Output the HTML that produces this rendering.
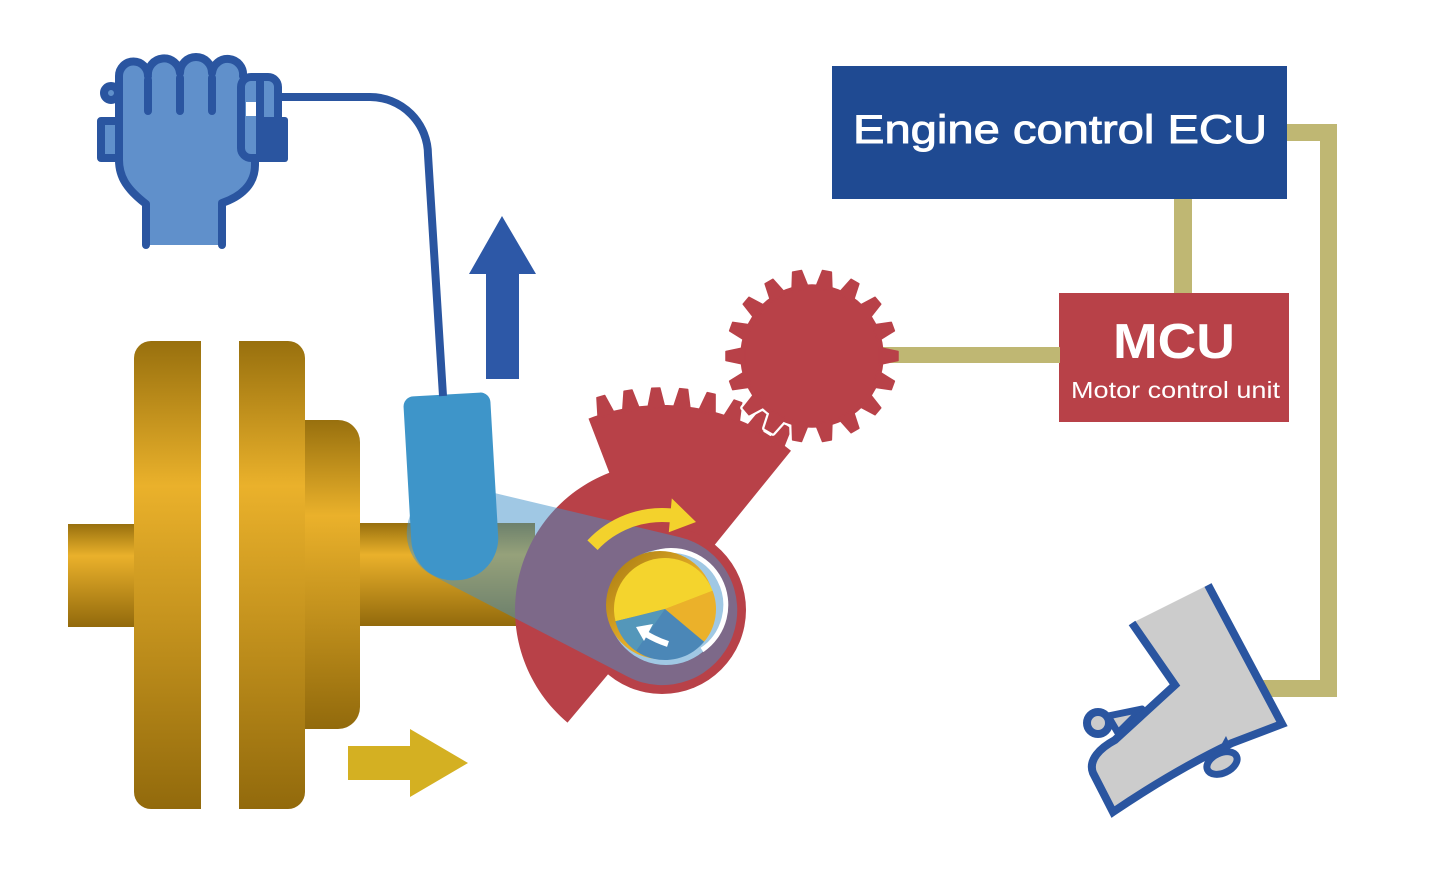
<!DOCTYPE html>
<html>
<head>
<meta charset="utf-8">
<style>
html,body{margin:0;padding:0;background:#fff;}
svg{display:block;}
</style>
</head>
<body>
<svg width="1440" height="895" viewBox="0 0 1440 895" xmlns="http://www.w3.org/2000/svg">
<defs>
<linearGradient id="gd" x1="0" y1="0" x2="0" y2="1">
<stop offset="0" stop-color="#98700e"/>
<stop offset="0.31" stop-color="#eab12b"/>
<stop offset="1" stop-color="#926a0c"/>
</linearGradient>
<linearGradient id="rim" x1="0" y1="0" x2="1" y2="1">
<stop offset="0" stop-color="#a47810"/>
<stop offset="0.55" stop-color="#e6ae28"/>
<stop offset="1" stop-color="#e6ae28"/>
</linearGradient>
</defs>

<!-- connectors -->
<rect x="1287" y="124" width="50" height="17" fill="#bfb773"/>
<rect x="1320" y="124" width="17" height="573" fill="#bfb773"/>
<rect x="1250" y="680" width="87" height="17" fill="#bfb773"/>
<rect x="1174" y="199" width="18" height="95" fill="#bfb773"/>

<!-- ECU -->
<rect x="832" y="66" width="455" height="133" fill="#1f4a92"/>
<text x="853" y="143" font-family="Liberation Sans, sans-serif" font-size="40" fill="#fff" stroke="#fff" stroke-width="0.9" textLength="414" lengthAdjust="spacingAndGlyphs">Engine control ECU</text>

<!-- MCU -->
<rect x="1059" y="293" width="230" height="129" fill="#b84148"/>
<text x="1113" y="358" font-family="Liberation Sans, sans-serif" font-size="49" font-weight="bold" fill="#fff" textLength="122" lengthAdjust="spacingAndGlyphs">MCU</text>
<text x="1071" y="398" font-family="Liberation Sans, sans-serif" font-size="23" fill="#fff" textLength="209" lengthAdjust="spacingAndGlyphs">Motor control unit</text>

<!-- shaft & flanges -->
<rect x="68" y="524" width="70" height="103" fill="url(#gd)"/>
<rect x="355" y="523" width="180" height="103" fill="url(#gd)"/>
<path d="M151,341 H201 V809 H151 A17,17 0 0 1 134,792 V358 A17,17 0 0 1 151,341 Z" fill="url(#gd)"/>
<path d="M239,341 H288 A17,17 0 0 1 305,358 V792 A17,17 0 0 1 288,809 H239 Z" fill="url(#gd)"/>
<path d="M305,420 H338 A22,22 0 0 1 360,442 V707 A22,22 0 0 1 338,729 H305 Z" fill="url(#gd)"/>

<!-- small yellow arrow -->
<polygon points="348,746 410,746 410,729 468,763 410,797 410,780 348,780" fill="#d4b022"/>

<!-- blue up arrow -->
<polygon points="502,216 536,274 519,274 519,379 486,379 486,274 469,274" fill="#2d58a7"/>

<!-- red sector gear -->
<g fill="#b84148">
<path d="M662,610 L567.5,722.6 A147,147 0 0 1 609.3,472.8 L588.5,418.6 A205,205 0 0 1 791,450.7 L715.5,543.9 Z"/>
<circle cx="662" cy="610" r="84"/>
<g transform="translate(662 610)" stroke="#b84148" stroke-width="1.5" stroke-linejoin="round">
<path d="M202,-8.5 L222,-4 L222,4 L202,8.5Z" transform="rotate(-106)"/>
<path d="M202,-8.5 L222,-4 L222,4 L202,8.5Z" transform="rotate(-98.8)"/>
<path d="M202,-8.5 L222,-4 L222,4 L202,8.5Z" transform="rotate(-91.6)"/>
<path d="M202,-8.5 L222,-4 L222,4 L202,8.5Z" transform="rotate(-84.4)"/>
<path d="M202,-8.5 L222,-4 L222,4 L202,8.5Z" transform="rotate(-77.2)"/>
<path d="M202,-8.5 L222,-4 L222,4 L202,8.5Z" transform="rotate(-70)"/>
<path d="M202,-8.5 L222,-4 L222,4 L202,8.5Z" transform="rotate(-62.8)"/>
<path d="M202,-8.5 L222,-4 L222,4 L202,8.5Z" transform="rotate(-55.6)"/>
</g>
</g>

<!-- small gear: white outline pass -->
<g transform="translate(812 356)" fill="#fff" stroke="#fff" stroke-width="6" stroke-linejoin="round">
<circle r="71"/>
<path d="M67,-8.5 L86,-4.5 L86,4.5 L67,8.5Z" transform="rotate(0)"/>
<path d="M67,-8.5 L86,-4.5 L86,4.5 L67,8.5Z" transform="rotate(20)"/>
<path d="M67,-8.5 L86,-4.5 L86,4.5 L67,8.5Z" transform="rotate(40)"/>
<path d="M67,-8.5 L86,-4.5 L86,4.5 L67,8.5Z" transform="rotate(60)"/>
<path d="M67,-8.5 L86,-4.5 L86,4.5 L67,8.5Z" transform="rotate(80)"/>
<path d="M67,-8.5 L86,-4.5 L86,4.5 L67,8.5Z" transform="rotate(100)"/>
<path d="M67,-8.5 L86,-4.5 L86,4.5 L67,8.5Z" transform="rotate(120)"/>
<path d="M67,-8.5 L86,-4.5 L86,4.5 L67,8.5Z" transform="rotate(140)"/>
<path d="M67,-8.5 L86,-4.5 L86,4.5 L67,8.5Z" transform="rotate(160)"/>
<path d="M67,-8.5 L86,-4.5 L86,4.5 L67,8.5Z" transform="rotate(180)"/>
<path d="M67,-8.5 L86,-4.5 L86,4.5 L67,8.5Z" transform="rotate(200)"/>
<path d="M67,-8.5 L86,-4.5 L86,4.5 L67,8.5Z" transform="rotate(220)"/>
<path d="M67,-8.5 L86,-4.5 L86,4.5 L67,8.5Z" transform="rotate(240)"/>
<path d="M67,-8.5 L86,-4.5 L86,4.5 L67,8.5Z" transform="rotate(260)"/>
<path d="M67,-8.5 L86,-4.5 L86,4.5 L67,8.5Z" transform="rotate(280)"/>
<path d="M67,-8.5 L86,-4.5 L86,4.5 L67,8.5Z" transform="rotate(300)"/>
<path d="M67,-8.5 L86,-4.5 L86,4.5 L67,8.5Z" transform="rotate(320)"/>
<path d="M67,-8.5 L86,-4.5 L86,4.5 L67,8.5Z" transform="rotate(340)"/>
</g>
<!-- gold line gear -> MCU -->
<rect x="860" y="347" width="200" height="16" fill="#bfb773"/>
<!-- small gear: red pass -->
<g transform="translate(812 356)" fill="#b84148" stroke="#b84148" stroke-width="1.5" stroke-linejoin="round">
<circle r="71"/>
<path d="M67,-8.5 L86,-4.5 L86,4.5 L67,8.5Z" transform="rotate(0)"/>
<path d="M67,-8.5 L86,-4.5 L86,4.5 L67,8.5Z" transform="rotate(20)"/>
<path d="M67,-8.5 L86,-4.5 L86,4.5 L67,8.5Z" transform="rotate(40)"/>
<path d="M67,-8.5 L86,-4.5 L86,4.5 L67,8.5Z" transform="rotate(60)"/>
<path d="M67,-8.5 L86,-4.5 L86,4.5 L67,8.5Z" transform="rotate(80)"/>
<path d="M67,-8.5 L86,-4.5 L86,4.5 L67,8.5Z" transform="rotate(100)"/>
<path d="M67,-8.5 L86,-4.5 L86,4.5 L67,8.5Z" transform="rotate(120)"/>
<path d="M67,-8.5 L86,-4.5 L86,4.5 L67,8.5Z" transform="rotate(140)"/>
<path d="M67,-8.5 L86,-4.5 L86,4.5 L67,8.5Z" transform="rotate(160)"/>
<path d="M67,-8.5 L86,-4.5 L86,4.5 L67,8.5Z" transform="rotate(180)"/>
<path d="M67,-8.5 L86,-4.5 L86,4.5 L67,8.5Z" transform="rotate(200)"/>
<path d="M67,-8.5 L86,-4.5 L86,4.5 L67,8.5Z" transform="rotate(220)"/>
<path d="M67,-8.5 L86,-4.5 L86,4.5 L67,8.5Z" transform="rotate(240)"/>
<path d="M67,-8.5 L86,-4.5 L86,4.5 L67,8.5Z" transform="rotate(260)"/>
<path d="M67,-8.5 L86,-4.5 L86,4.5 L67,8.5Z" transform="rotate(280)"/>
<path d="M67,-8.5 L86,-4.5 L86,4.5 L67,8.5Z" transform="rotate(300)"/>
<path d="M67,-8.5 L86,-4.5 L86,4.5 L67,8.5Z" transform="rotate(320)"/>
<path d="M67,-8.5 L86,-4.5 L86,4.5 L67,8.5Z" transform="rotate(340)"/>
</g>

<!-- hole in red circle -->
<circle cx="666" cy="607" r="58" fill="#fff"/>

<!-- translucent lever band -->
<path d="M466.2,486.3 L679.5,537.1 A75,75 0 1 1 627.4,676.5 L432.8,575.6 A48,48 0 0 1 466.2,486.3 Z" fill="rgb(65,145,201)" fill-opacity="0.5"/>

<!-- white gap on right -->
<path d="M652,554 A54.5,54.5 0 0 1 702,650" fill="none" stroke="#fff" stroke-width="5"/>

<!-- disc -->
<circle cx="660" cy="605" r="54" fill="url(#rim)"/>
<path d="M665,609 L615.5,621.3 A51,51 0 0 1 712.6,590.7 Z" fill="#f4d42d"/>
<path d="M665,609 L712.6,590.7 A51,51 0 0 1 704.1,641.8 Z" fill="#ebb12a"/>
<path d="M665,609 L704.1,641.8 A51,51 0 0 1 615.5,621.3 Z" fill="#4b87b7"/>
<path d="M665,609 L615.5,621.3 A51,51 0 0 0 636,651 Z" fill="#5aa2bc" fill-opacity="0.6"/>
<!-- small white arrow -->
<path d="M668,644 Q656,640 646,634" fill="none" stroke="#fff" stroke-width="6"/>
<polygon points="636,627 653,624 644,641" fill="#fff"/>

<!-- yellow rotation arrow -->
<path d="M587.4,540.4 A102,102 0 0 1 670.9,508.4 L671.8,498.4 L696,522 L668.8,532.3 L669.7,522.3 A88,88 0 0 0 597.6,550 Z" fill="#f3d22c"/>

<!-- sensor -->
<g transform="translate(403 397) rotate(-3.3)">
<path d="M10,0 H77 A10,10 0 0 1 87,10 V144 A42,42 0 0 1 45,186 H42 A42,42 0 0 1 0,144 V10 A10,10 0 0 1 10,0 Z" fill="#3e95c9"/>
</g>

<!-- cable -->
<path d="M280,97 H370 A58,58 0 0 1 428,155 L443,396" fill="none" stroke="#2a55a0" stroke-width="8"/>

<!-- hand -->
<g stroke="#2a55a0" stroke-width="8" stroke-linejoin="round" stroke-linecap="round">
<rect x="101" y="121" width="18" height="37" fill="#6090cb"/>
<circle cx="111" cy="93" r="7" fill="#6090cb"/>
<path d="M146,245 V204 C128,190 119,178 119,160 V76 A14.5,14.5 0 0 1 148,76 A16,16 0 0 1 180,73 A16,16 0 0 1 212,73 A15.5,15.5 0 0 1 243,76 L255,100 V165 C255,185 240,197 222,203 V245" fill="#6090cb"/>
<line x1="148" y1="80" x2="148" y2="111" fill="none"/>
<line x1="180" y1="78" x2="180" y2="111" fill="none"/>
<line x1="212" y1="78" x2="212" y2="111" fill="none"/>
<rect x="241" y="77" width="37" height="81" rx="10" fill="#6090cb"/>
<line x1="260" y1="80" x2="260" y2="156"/>
</g>
<rect x="258" y="117" width="30" height="45" rx="3" fill="#2a55a0"/>
<rect x="246" y="102" width="10" height="14" fill="#fff"/>

<!-- foot pedal -->
<g stroke="#2a55a0" stroke-width="7" stroke-linejoin="round">
<polygon points="1108,716 1142,709 1118,733" fill="#cccccc"/>
<circle cx="1098" cy="723" r="11" fill="#cccccc" stroke-width="8"/>
</g>
<path d="M1132,623 L1208,585 L1282,724 L1232,743 Q1175,770 1113,812 L1093,773 C1088,760 1100,748 1115,740 L1175,685 Z" fill="#cccccc"/>
<path d="M1132,623 L1175,685 L1115,740 C1100,748 1088,760 1093,773 L1113,812 Q1175,770 1232,743 L1282,724 L1208,585" fill="none" stroke="#2a55a0" stroke-width="8" stroke-linejoin="miter"/>
<polygon points="1226,736 1231,747 1219,749" fill="#2a55a0"/>
<ellipse cx="1222" cy="763" rx="16" ry="10" transform="rotate(-25 1222 763)" fill="#cccccc" stroke="#2a55a0" stroke-width="7"/>
</svg>
</body>
</html>
